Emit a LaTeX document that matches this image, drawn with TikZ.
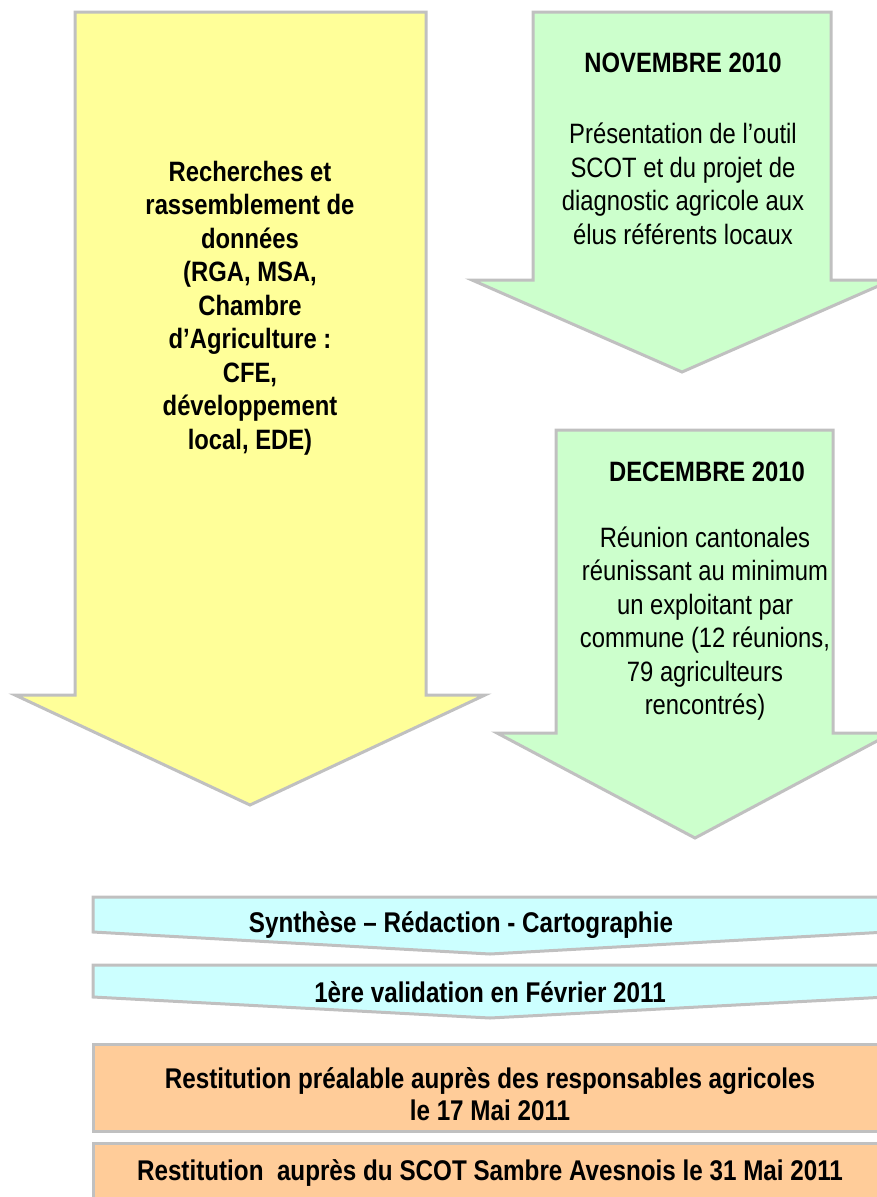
\documentclass[tikz,border=0pt]{standalone}
\usepackage{fontspec}
\setmainfont{Liberation Sans}[FakeStretch=0.85]
\definecolor{yel}{HTML}{FFFF99}
\definecolor{grn}{HTML}{CCFFCC}
\definecolor{cya}{HTML}{CCFFFF}
\definecolor{ora}{HTML}{FFCC99}
\definecolor{bord}{HTML}{C0C0C0}
\tikzset{
  shapeline/.style={draw=bord, line width=3pt, line join=miter},
  txt/.style={inner sep=0pt, align=center, font=\fontsize{28}{33.5}\selectfont},
  btxt/.style={txt, font=\fontsize{28}{33.5}\selectfont\bfseries},
  bartxt/.style={inner sep=0pt, align=center, font=\fontsize{28.5}{32}\selectfont\bfseries}
}
\begin{document}
\begin{tikzpicture}[x=1pt,y=-1pt]
\useasboundingbox (0,0) rectangle (877,1197);
\clip (0,0) rectangle (877,1197);
% yellow arrow
\path[shapeline, fill=yel] (75,12) -- (426,12) -- (426,695) -- (485,695) -- (250,805) -- (15,695) -- (75,695) -- cycle;
% green arrow 1
\path[shapeline, fill=grn] (533,12) -- (831,12) -- (831,280) -- (892,280) -- (682,372) -- (472,280) -- (533,280) -- cycle;
% green arrow 2
\path[shapeline, fill=grn] (556,430) -- (833,430) -- (833,733) -- (892,733) -- (695,838) -- (497,733) -- (556,733) -- cycle;
% cyan bars
\path[shapeline, fill=cya] (93,897) -- (887,897) -- (887,932) -- (490,954) -- (93,932) -- cycle;
\path[shapeline, fill=cya] (93,965) -- (887,965) -- (887,997) -- (490,1018) -- (93,997) -- cycle;
% orange bars
\path[shapeline, fill=ora] (93,1044) rectangle (887,1131);
\path[shapeline, fill=ora] (93,1143) rectangle (887,1210);
% texts
\node[btxt] (yt) at (250,308) {Recherches et\\rassemblement de\\données\\(RGA, MSA,\\Chambre\\d’Agriculture :\\CFE,\\développement\\local, EDE)};
\node[btxt] (g1t) at (683,63) {NOVEMBRE 2010};
\node[txt] (g1b) at (683,184) {Présentation de l’outil\\SCOT et du projet de\\diagnostic agricole aux\\élus référents locaux};
\node[btxt] (g2t) at (707,472) {DECEMBRE 2010};
\node[txt] (g2b) at (705,623.5) {Réunion cantonales\\réunissant au minimum\\un exploitant par\\commune (12 réunions,\\79 agriculteurs\\rencontrés)};
\node[bartxt] (c1) at (461,925) {Synthèse – Rédaction - Cartographie};
\node[bartxt] (c2) at (490,992) {1ère validation en Février 2011};
\node[bartxt] (o1) at (490,1094) {Restitution préalable auprès des responsables agricoles\\le 17 Mai 2011};
\node[bartxt] (o2) at (490,1173) {Restitution\ \ auprès du SCOT Sambre Avesnois le 31 Mai 2011};
\end{tikzpicture}
\end{document}
